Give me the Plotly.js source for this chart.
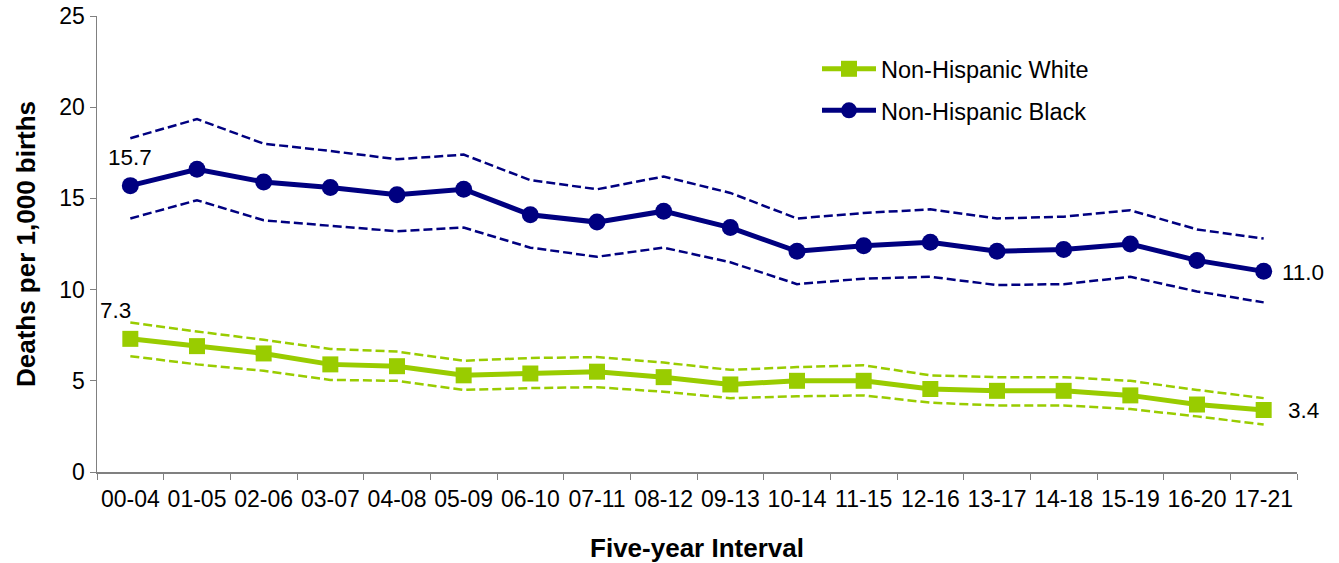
<!DOCTYPE html>
<html>
<head>
<meta charset="utf-8">
<script src="https://cdn.plot.ly/plotly-3.0.1.min.js"></script>
<style>html,body{margin:0;padding:0;background:#fff;}#chart{width:1339px;height:563px;}</style>
</head>
<body>
<div id="chart"></div>
<script>
const intervals = ["00-04","01-05","02-06","03-07","04-08","05-09","06-10","07-11","08-12","09-13","10-14","11-15","12-16","13-17","14-18","15-19","16-20","17-21"];
const whiteRate  = [7.3,6.9,6.5,5.9,5.8,5.3,5.4,5.5,5.2,4.8,5.0,5.0,4.55,4.45,4.45,4.2,3.7,3.4];
const whiteUpper = [8.2,7.7,7.25,6.75,6.6,6.1,6.25,6.3,6.0,5.6,5.75,5.85,5.3,5.2,5.2,5.0,4.5,4.05];
const whiteLower = [6.35,5.9,5.55,5.05,5.0,4.5,4.6,4.65,4.4,4.05,4.15,4.2,3.8,3.65,3.65,3.45,3.05,2.6];
const blackRate  = [15.7,16.6,15.9,15.6,15.2,15.5,14.1,13.7,14.3,13.4,12.1,12.4,12.6,12.1,12.2,12.5,11.6,11.0];
const blackUpper = [18.3,19.35,18.0,17.6,17.15,17.4,16.0,15.5,16.2,15.3,13.9,14.2,14.4,13.9,14.0,14.35,13.3,12.8];
const blackLower = [13.9,14.9,13.8,13.5,13.2,13.4,12.3,11.8,12.3,11.5,10.3,10.6,10.7,10.25,10.3,10.7,9.9,9.3];

const GREEN = "#99CC00", NAVY = "#000080";
const FONT = "Liberation Sans, Arial, sans-serif";

function band(y, color){
  return {x: intervals, y: y, type: "scatter", mode: "lines", showlegend: false, hoverinfo: "skip",
          line: {color: color, width: 2.5, dash: "9px,4px"}};
}
const traces = [
  band(whiteUpper, GREEN), band(whiteLower, GREEN),
  band(blackUpper, NAVY), band(blackLower, NAVY),
  {x: intervals, y: whiteRate, type: "scatter", mode: "lines+markers", name: "Non-Hispanic White",
   legendgroup: "w", line: {color: GREEN, width: 5}, marker: {symbol: "square", size: 16, color: GREEN}, cliponaxis: false},
  {x: intervals, y: blackRate, type: "scatter", mode: "lines+markers", name: "Non-Hispanic Black",
   legendgroup: "b", line: {color: NAVY, width: 5}, marker: {symbol: "circle", size: 17, color: NAVY}, cliponaxis: false}
];

const last = intervals.length - 1;
const annotations = [
  {x: intervals[0], y: blackRate[0], text: blackRate[0].toFixed(1), xshift: 0, yshift: 28},
  {x: intervals[0], y: whiteRate[0], text: whiteRate[0].toFixed(1), xshift: -15, yshift: 28},
  {x: intervals[last], y: blackRate[last], text: blackRate[last].toFixed(1), xshift: 39, yshift: -1},
  {x: intervals[last], y: whiteRate[last], text: whiteRate[last].toFixed(1), xshift: 40, yshift: -1}
].map(a => Object.assign({xref: "x", yref: "y", showarrow: false, font: {family: FONT, size: 22.5, color: "#000"}}, a));

const layout = {
  width: 1339, height: 563,
  margin: {l: 97, r: 42, t: 16, b: 91},
  paper_bgcolor: "#fff", plot_bgcolor: "#fff",
  font: {family: FONT, color: "#000"},
  showlegend: true,
  legend: {x: 0.6, y: 0.932, xanchor: "left", yanchor: "top", bgcolor: "rgba(0,0,0,0)",
           font: {family: FONT, size: 23.5, color: "#000"}, tracegroupgap: 8, itemwidth: 54,
           traceorder: "grouped"},
  xaxis: {
    type: "category", range: [-0.5, intervals.length - 0.5], tickangle: 0,
    showgrid: false, zeroline: false, showline: true, linecolor: "#808080", linewidth: 1.5,
    ticks: "outside", ticklen: 6, tickcolor: "#808080", tickson: "boundaries", ticklabelstandoff: 6,
    tickfont: {family: FONT, size: 23, color: "#000"},
    title: {text: "<b>Five-year Interval</b>", font: {family: FONT, size: 26, color: "#000"}, standoff: 27}
  },
  yaxis: {
    range: [0, 25], dtick: 5, showgrid: false, zeroline: false, showline: true,
    linecolor: "#808080", linewidth: 1.5, ticks: "outside", ticklen: 6, tickcolor: "#808080",
    tickfont: {family: FONT, size: 23, color: "#000"},
    title: {text: "<b>Deaths per 1,000 births</b>", font: {family: FONT, size: 26, color: "#000"}, standoff: 16}
  },
  annotations: annotations
};

Plotly.newPlot("chart", traces, layout, {displayModeBar: false, staticPlot: true});
</script>
</body>
</html>
